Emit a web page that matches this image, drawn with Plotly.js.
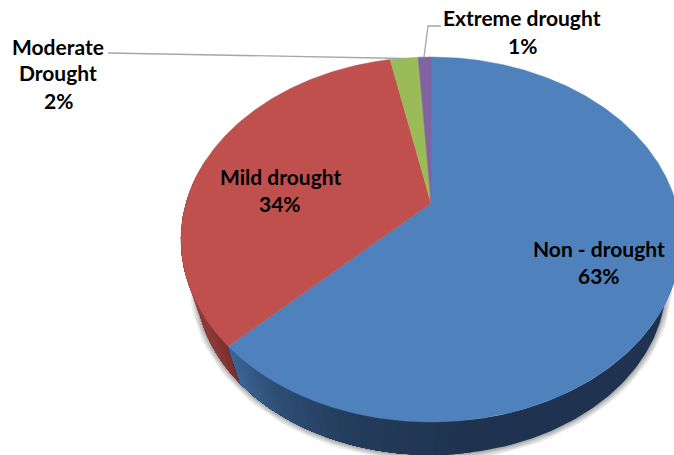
<!DOCTYPE html>
<html>
<head>
<meta charset="utf-8">
<script src="https://cdn.plot.ly/plotly-3.0.1.min.js"></script>
<style>html,body{margin:0;padding:0;background:#fff}#chart{width:674px;height:455px}</style>
</head>
<body>
<div id="chart"></div>
<script>
const categories = ['Non - drought', 'Mild drought', 'Moderate Drought', 'Extreme drought'];
const values = [62.6, 34.2, 2.2, 1.0];
const sliceColors = ['#4f81bd', '#c0504d', '#9bbb59', '#8064a2'];

// Perspective view of the disc, in plot units
const apex = {x: 431, y: 203}, A = 245, B = 175.2, K = 0.2;
const vanish = {x: 431, y: 972}, depthScale = 0.94;

const rad = d => d * Math.PI / 180;
function topRim(deg) {
  const u = Math.sin(rad(deg)), v = Math.cos(rad(deg)), w = 1 + K * v;
  return [apex.x + A * u / w, apex.y - B * v / w];
}
function lowRim(deg) {
  const p = topRim(deg);
  return [vanish.x + depthScale * (p[0] - vanish.x), vanish.y + depthScale * (p[1] - vanish.y)];
}
function steps(a, b, step) {
  const out = [], n = Math.max(1, Math.ceil(Math.abs(b - a) / step));
  for (let i = 0; i <= n; i++) out.push(a + (b - a) * i / n);
  return out;
}
const hex = c => [1, 3, 5].map(i => parseInt(c.substr(i, 2), 16));
function ramp(stops, t) {
  for (let i = 1; i < stops.length; i++) {
    if (t <= stops[i][0]) {
      const f = (t - stops[i - 1][0]) / (stops[i][0] - stops[i - 1][0]);
      const a = hex(stops[i - 1][1]), b = hex(stops[i][1]);
      return 'rgb(' + a.map((x, k) => Math.round(x + (b[k] - x) * f)).join(',') + ')';
    }
  }
  return stops[stops.length - 1][1];
}

const total = values.reduce((a, b) => a + b, 0);
const edges = [0];
values.forEach(v => edges.push(edges[edges.length - 1] + v / total * 360));

const traces = [];
function poly(pts, color, lineWidth) {
  traces.push({type: 'scatter', mode: 'lines', x: pts.map(p => p[0]), y: pts.map(p => p[1]),
    fill: 'toself', fillcolor: color, line: {color: color, width: lineWidth}, hoverinfo: 'skip', showlegend: false});
}
function stroke(pts, color, width) {
  traces.push({type: 'scatter', mode: 'lines', x: pts.map(p => p[0]), y: pts.map(p => p[1]),
    line: {color: color, width: width}, hoverinfo: 'skip', showlegend: false});
}
function wall(a, b, color) {
  const arc = steps(a, b, 1);
  poly(arc.map(topRim).concat(arc.slice().reverse().map(lowRim)), color, 0);
}

// soft shadow under the rim
[13, 10, 7.5, 5, 3].forEach(w => {
  stroke(steps(95, 288, 1.5).map(lowRim), 'rgba(0,0,0,0.07)', w);
});

// side wall: each gradient step is painted over the previous one, so no seams appear
const redStops = [[edges[1], '#7a2c2a'], [edges[1] + 10, '#8a3a38'], [edges[1] + 50, '#8e3c3a']];
steps(edges[1] + 60, edges[1] + 1, 2).forEach(d => wall(edges[1], d, ramp(redStops, d)));
const blueStops = [[90, '#1f3350'], [172, '#1f3350'], [195, '#243c5c'], [212, '#2e4e76'], [edges[1], '#3c6898']];
wall(90, edges[1], '#1f3350');
steps(172, edges[1] - 0.5, 1.5).forEach(d => wall(d, edges[1], ramp(blueStops, d)));

// top faces
values.forEach((v, i) => {
  const arc = steps(edges[i], edges[i + 1], 0.5).map(topRim);
  poly([[apex.x, apex.y]].concat(arc, [[apex.x, apex.y]]), sliceColors[i], 0.5);
});

// leader lines
const leaderGrey = '#a6a6a6';
stroke([[108, 53], [404, 58.5]], leaderGrey, 1.3);
stroke([[441, 26], [428, 26], [424, 57]], leaderGrey, 1.3);

// labels
const pct = values.map(v => Math.round(v / total * 100) + '%');
const labelLines = [
  ['Non - drought', pct[0]],
  ['Mild drought', pct[1]],
  ['Moderate', 'Drought', pct[2]],
  ['Extreme drought', pct[3]]
];
const labelAnchors = [
  {x: 599, y: [248.5, 275.5]},
  {x: 280, y: [176.5, 203.5]},
  {x: 58, y: [46.5, 72.5, 100.5]},
  {x: 522, y: [17.5, 45.5]}
];
const annotations = [];
labelLines.forEach((lines, i) => lines.forEach((t, j) => annotations.push({
  xref: 'x', yref: 'y', x: labelAnchors[i].x, y: labelAnchors[i].y[j], text: t,
  showarrow: false, xanchor: 'center', yanchor: 'middle',
  font: {family: 'Lato, "Open Sans", sans-serif', size: 21, color: '#000', weight: 700}
})));

const hidden = {visible: false, fixedrange: true};
Plotly.newPlot('chart', traces, {
  width: 674, height: 455,
  margin: {l: 0, r: 0, t: 0, b: 0},
  paper_bgcolor: '#fff', plot_bgcolor: '#fff',
  showlegend: false,
  xaxis: Object.assign({range: [0, 674]}, hidden),
  yaxis: Object.assign({range: [455, 0]}, hidden),
  annotations: annotations
}, {displayModeBar: false, staticPlot: true});
</script>
</body>
</html>
